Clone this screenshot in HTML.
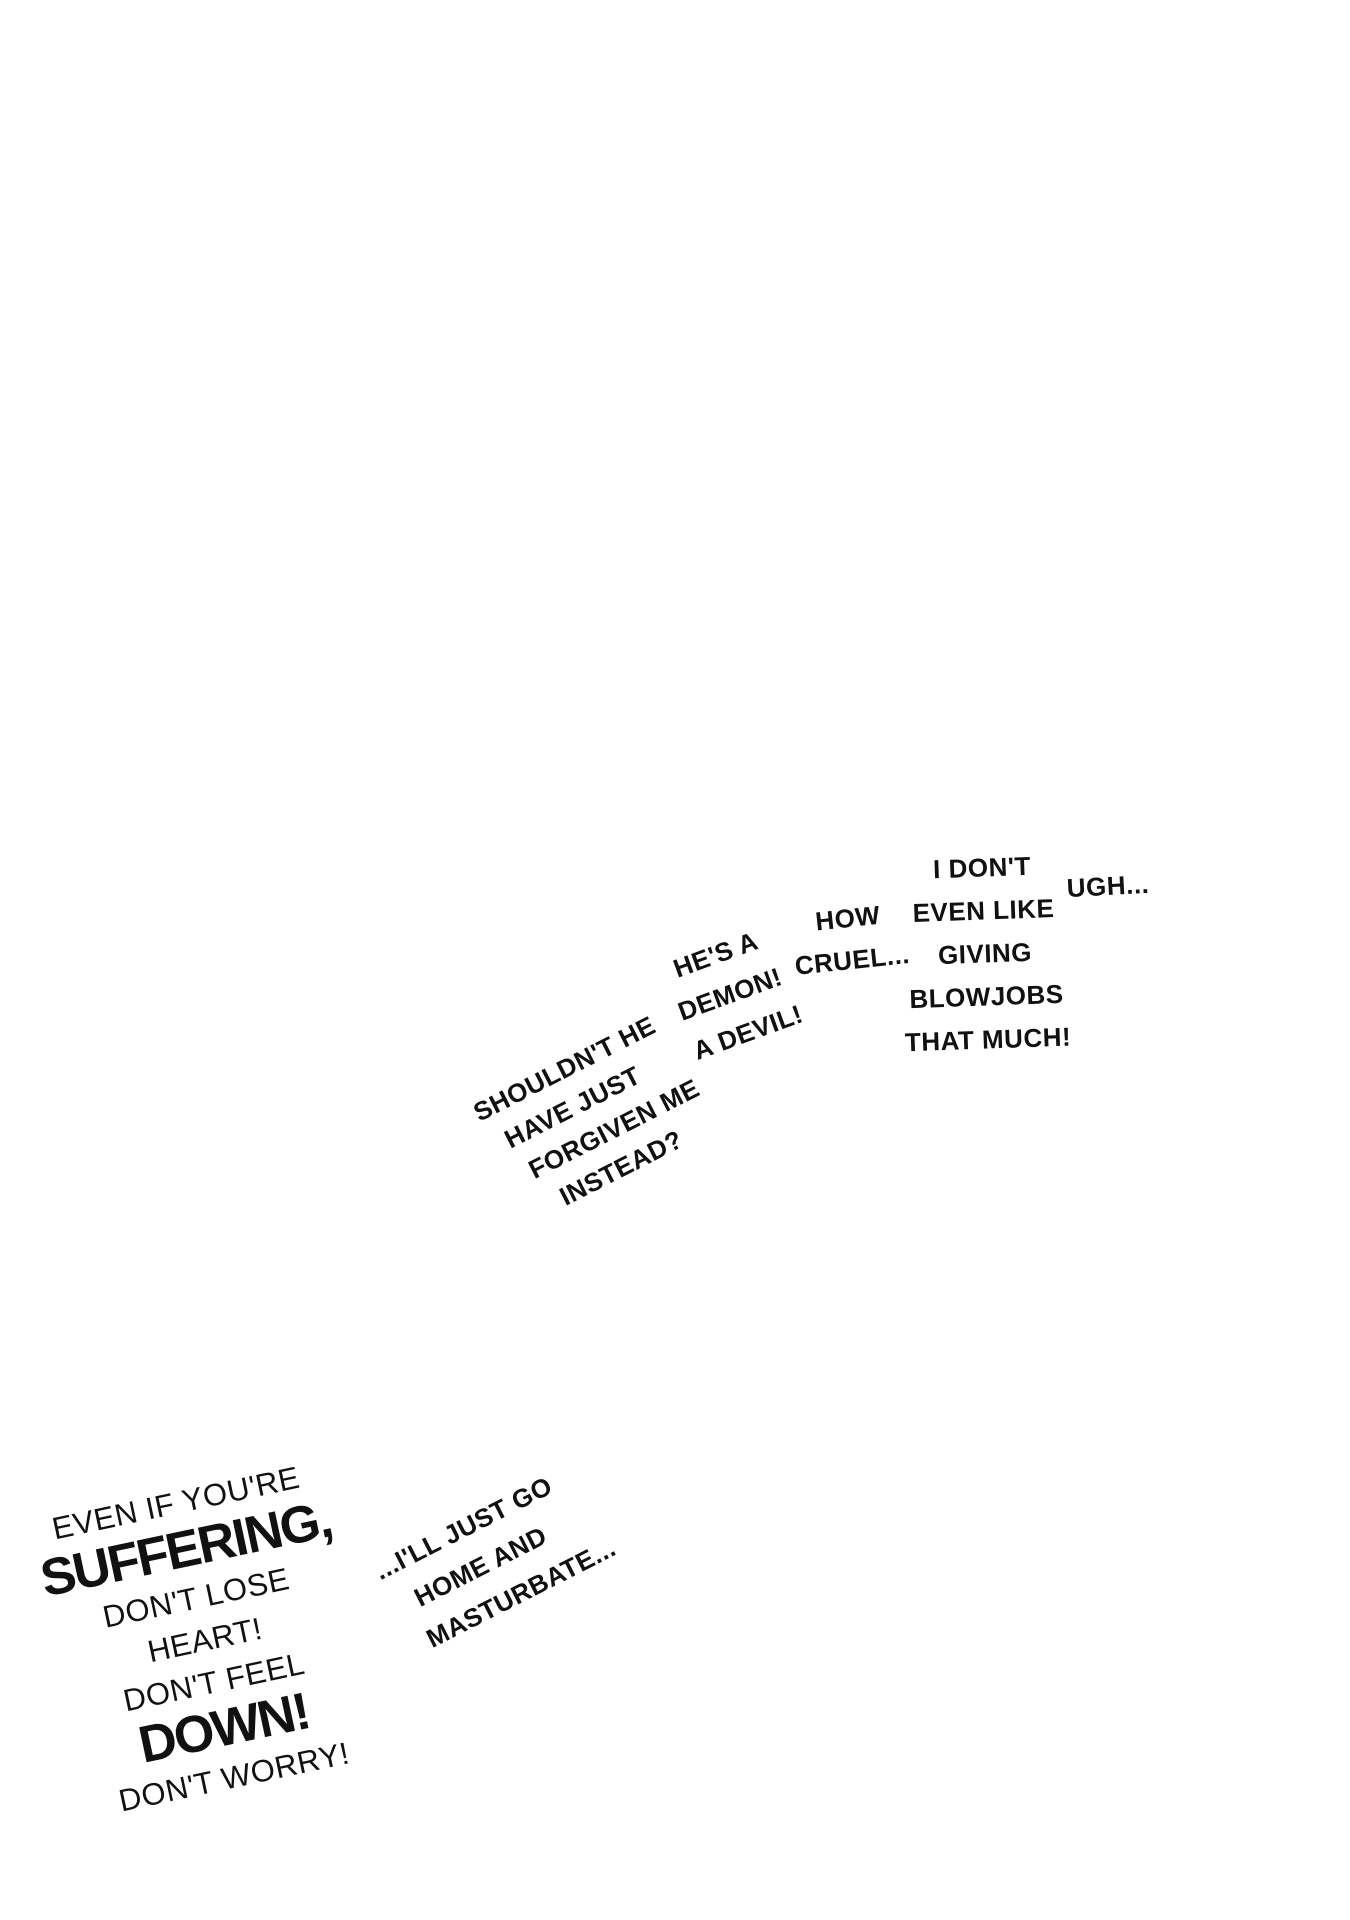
<!DOCTYPE html>
<html><head><meta charset="utf-8"><style>
html,body{margin:0;padding:0;background:#fff;}
body{width:1350px;height:1920px;position:relative;overflow:hidden;font-family:"Liberation Sans",sans-serif;color:#111;}
.t{position:absolute;transform-origin:center;text-align:center;white-space:nowrap;font-size:26px;line-height:40px;letter-spacing:0.5px;font-weight:bold;}
.big{font-weight:900;font-size:52px;line-height:52px;letter-spacing:-2px;}
</style></head><body>
<div class="t" style="left:595px;top:1117px;transform:translate(-50%,-50%) rotate(-27deg);line-height:38px;text-align:left;">SHOULDN'T HE<br>&nbsp;&nbsp;HAVE JUST<br>&nbsp;&nbsp;&nbsp;FORGIVEN ME<br>&nbsp;&nbsp;&nbsp;&nbsp;&nbsp;INSTEAD?</div>
<div class="t" style="left:730px;top:994px;transform:translate(-50%,-50%) rotate(-20deg);line-height:42px;">HE'S A<br>DEMON!<br>&nbsp;A DEVIL!</div>
<div class="t" style="left:850px;top:939px;transform:translate(-50%,-50%) rotate(-6deg);line-height:42px;">HOW<br>CRUEL...</div>
<div class="t" style="left:985px;top:954px;transform:translate(-50%,-50%) rotate(-2deg);line-height:43px;">I DON'T<br>EVEN LIKE<br>GIVING<br>BLOWJOBS<br>THAT MUCH!</div>
<div class="t" style="left:1108px;top:886px;transform:translate(-50%,-50%) rotate(-3deg);">UGH...</div>
<div class="t" style="left:205px;top:1640px;transform:translate(-50%,-50%) rotate(-12deg);font-size:31px;line-height:43px;font-weight:normal;">EVEN IF YOU'RE<br><span class="big">SUFFERING,</span><br>DON'T LOSE<br>HEART!<br>DON'T FEEL<br><span class="big">DOWN!</span><br>DON'T WORRY!</div>
<div class="t" style="left:495px;top:1559px;transform:translate(-50%,-50%) rotate(-27deg);line-height:42px;text-align:left;">...I'LL JUST GO<br>&nbsp;&nbsp;&nbsp;HOME AND<br>&nbsp;&nbsp;MASTURBATE...</div>
</body></html>
